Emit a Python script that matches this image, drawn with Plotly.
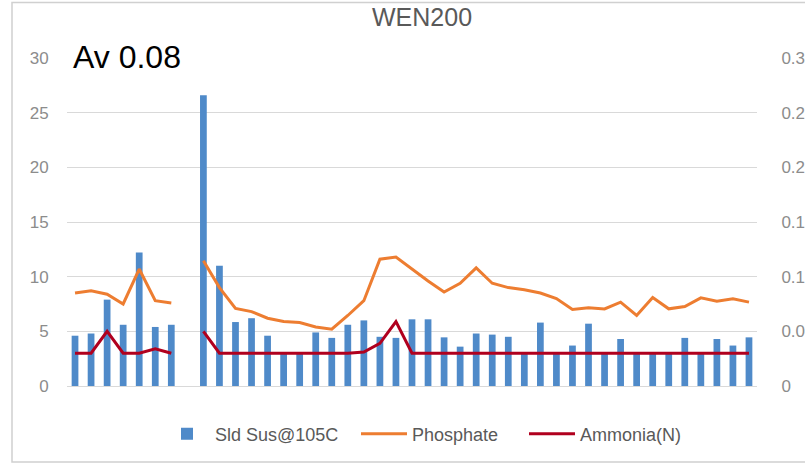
import plotly.graph_objects as go

categories = list(range(1, 44))

sld_sus = [4.6, 4.8, 7.9, 5.6, 12.2, 5.4, 5.6, None,
           26.6, 11.0, 5.85, 6.2, 4.6, 3.0, 3.0, 4.9, 4.4, 5.6, 6.0, 4.5,
           4.4, 6.1, 6.1, 4.45, 3.6, 4.8, 4.7, 4.5, 3.0, 5.8, 3.0, 3.7,
           5.7, 3.0, 4.3, 3.0, 3.0, 3.0, 4.4, 3.0, 4.3, 3.7, 4.45]

phosphate = [0.085, 0.087, 0.084, 0.075, 0.107, 0.078, 0.076, None,
             0.1145, 0.090, 0.071, 0.068, 0.062, 0.059, 0.058, 0.054, 0.052,
             0.0645, 0.078, 0.116, 0.118, 0.107, 0.096, 0.086, 0.094, 0.108,
             0.094, 0.090, 0.088, 0.085, 0.080, 0.070, 0.0715, 0.0705, 0.0767,
             0.0645, 0.081, 0.0706, 0.0727, 0.0806, 0.0776, 0.0797, 0.0767]

ammonia = [0.03, 0.03, 0.05, 0.03, 0.03, 0.034, 0.03, None,
           0.05, 0.03, 0.03, 0.03, 0.03, 0.03, 0.03, 0.03, 0.03, 0.03,
           0.031, 0.039, 0.059, 0.03, 0.03, 0.03, 0.03, 0.03, 0.03, 0.03,
           0.03, 0.03, 0.03, 0.03, 0.03, 0.03, 0.03, 0.03, 0.03, 0.03,
           0.03, 0.03, 0.03, 0.03, 0.03]

left_ticks = [0, 5, 10, 15, 20, 25, 30]
right_ticks = [0, 0.05, 0.1, 0.15, 0.2, 0.25, 0.3]
# right-hand labels as they appear in the (edge-cropped) original
right_tick_text = ["0", "0.0", "0.1", "0.1", "0.2", "0.2", "0.3"]

W, H = 805, 465
L, R, T, B = 67, 48, 58, 79
pw, ph = W - L - R, H - T - B

def px(x):
    return (x - L) / pw

def py(y):
    return (H - B - y) / ph

fig = go.Figure()
fig.add_trace(go.Bar(x=categories, y=sld_sus, name="Sld Sus@105C", legend="legend",
                     marker=dict(color="#4F8AC9", line=dict(width=0))))
fig.add_trace(go.Scatter(x=categories, y=phosphate, name="Phosphate", yaxis="y2",
                         legend="legend2",
                         mode="lines", line=dict(color="#ED7D31", width=3),
                         connectgaps=False))
fig.add_trace(go.Scatter(x=categories, y=ammonia, name="Ammonia(N)", yaxis="y2",
                         legend="legend3",
                         mode="lines", line=dict(color="#B0001E", width=3),
                         connectgaps=False))

def leg(xpix):
    return dict(orientation="h", x=px(xpix), y=py(434), xanchor="left", yanchor="middle",
                font=dict(size=18, color="#595959"), itemwidth=46,
                bgcolor="rgba(0,0,0,0)")

fig.update_layout(
    width=W, height=H,
    margin=dict(l=L, r=R, t=T, b=B),
    paper_bgcolor="white", plot_bgcolor="white",
    font=dict(family="Liberation Sans, Arial, sans-serif", color="#595959"),
    bargap=0.58,
    showlegend=True,
    legend=leg(159),
    legend2=leg(356),
    legend3=leg(524),
    xaxis=dict(type="category", range=[-0.5, 42.5], showticklabels=False,
               showgrid=False, showline=True, linecolor="#D9D9D9", linewidth=1,
               ticks="", zeroline=False),
    yaxis=dict(range=[0, 30], tickvals=left_ticks, showgrid=True, gridcolor="#D9D9D9",
               gridwidth=1, zeroline=False, ticks="outside", ticklen=14,
               tickcolor="rgba(0,0,0,0)", tickfont=dict(size=17, color="#8C8C8C"),
               automargin=False, showline=False),
    yaxis2=dict(range=[0, 0.3], tickvals=right_ticks, ticktext=right_tick_text,
                overlaying="y", side="right",
                showgrid=False, zeroline=False, ticks="outside", ticklen=20,
                tickcolor="rgba(0,0,0,0)", tickfont=dict(size=17, color="#8C8C8C"),
                automargin=False, showline=False),
    annotations=[
        dict(text="WEN200", xref="paper", yref="paper", x=px(422), y=py(16.5),
             xanchor="center", yanchor="middle", showarrow=False,
             font=dict(size=25, color="#595959")),
        dict(text="Av 0.08", xref="paper", yref="paper", x=px(127), y=py(57),
             xanchor="center", yanchor="middle", showarrow=False,
             font=dict(size=32, color="#000000")),
    ],
    shapes=[
        dict(type="rect", xref="paper", yref="paper", x0=px(12), x1=px(812),
             y0=py(462), y1=py(2.5), line=dict(color="#D0D0D0", width=1.5),
             fillcolor="rgba(0,0,0,0)", layer="below"),
    ],
)

fig.write_html("out.html", config={"displayModeBar": False},
               post_script="document.body.style.margin='0';")
